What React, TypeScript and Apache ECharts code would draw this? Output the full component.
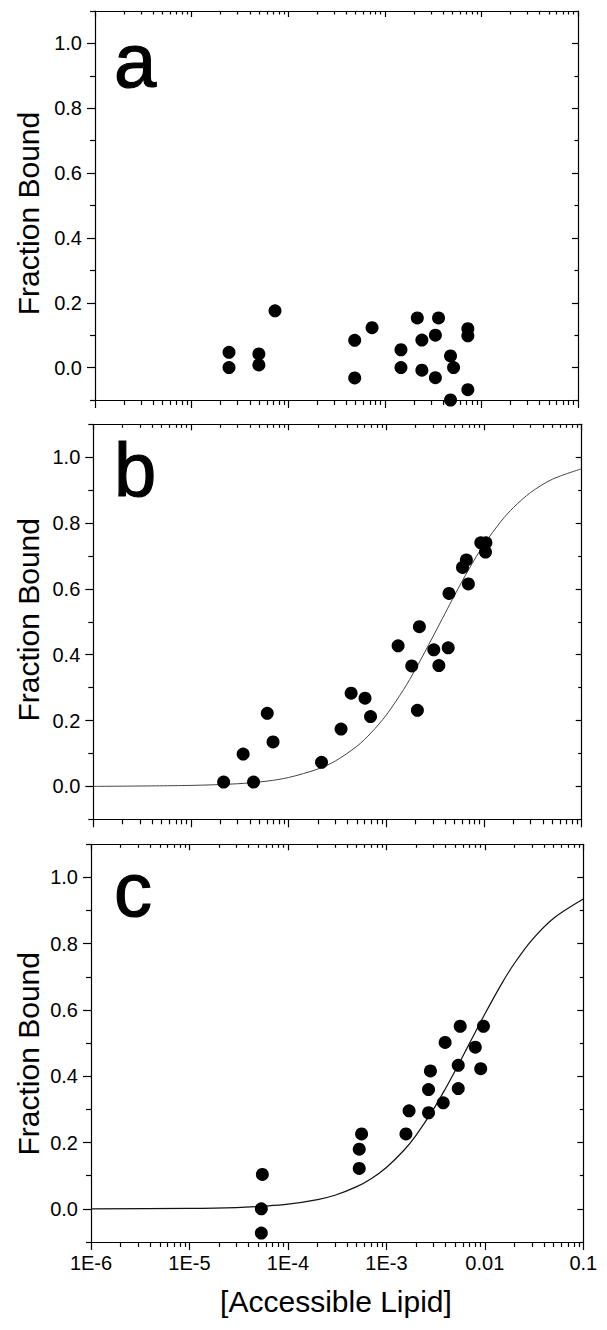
import React, { useEffect, useRef } from "react";
import * as echarts from "echarts";

// ---- axis tick values / labels ----
const xTickExponents = [-6, -5, -4, -3, -2, -1];
const xTickLabels = ["1E-6", "1E-5", "1E-4", "1E-3", "0.01", "0.1"];
const xMinorDigits = [2, 3, 4, 5, 6, 7, 8, 9];
const yMajorTicks = [0, 0.2, 0.4, 0.6, 0.8, 1.0];
const yMinorTicks = [-0.1, 0.1, 0.3, 0.5, 0.7, 0.9, 1.1];
const panelLetters = ["a", "b", "c"];
const yTitle = "Fraction Bound";
const xTitle = "[Accessible Lipid]";

// ---- panel a data ----
const aX = [2.44e-5, 2.44e-5, 4.97e-5, 4.97e-5, 7.3e-5, 4.88e-4, 4.88e-4, 7.38e-4, 1.47e-3, 1.47e-3, 2.17e-3, 2.42e-3, 2.42e-3, 3.34e-3, 3.34e-3, 3.6e-3, 4.79e-3, 5.15e-3, 4.79e-3, 7.24e-3, 7.24e-3, 7.24e-3];
const aY = [0.047, 0.0, 0.042, 0.008, 0.175, 0.084, -0.032, 0.123, 0.055, 0.0, 0.153, 0.085, -0.008, 0.1, -0.031, 0.153, 0.036, 0.0, -0.1, 0.12, 0.098, -0.068];

// ---- panel b data ----
const bX = [2.16e-5, 3.42e-5, 4.37e-5, 6.04e-5, 6.92e-5, 2.17e-4, 3.44e-4, 4.36e-4, 6.05e-4, 6.89e-4, 1.32e-3, 1.82e-3, 2.08e-3, 2.18e-3, 3.06e-3, 3.45e-3, 4.3e-3, 4.38e-3, 6.02e-3, 6.6e-3, 6.92e-3, 9.27e-3, 1.045e-2, 1.035e-2];
const bY = [0.013, 0.098, 0.013, 0.222, 0.135, 0.073, 0.174, 0.283, 0.268, 0.212, 0.427, 0.366, 0.231, 0.485, 0.415, 0.367, 0.421, 0.586, 0.665, 0.688, 0.615, 0.74, 0.74, 0.712];
const bCurveX = [1e-6, 1e-5, 3e-5, 6e-5, 1e-4, 2e-4, 3e-4, 5e-4, 7e-4, 1e-3, 1.5e-3, 2e-3, 3e-3, 4e-3, 5e-3, 7e-3, 1e-2, 1.5e-2, 2e-2, 3e-2, 5e-2, 1e-1];
const bCurveY = [0.0, 0.003, 0.008, 0.016, 0.027, 0.053, 0.077, 0.122, 0.163, 0.217, 0.294, 0.357, 0.455, 0.526, 0.581, 0.66, 0.735, 0.806, 0.847, 0.893, 0.933, 0.965];

// ---- panel c data ----
const cX = [5.5e-5, 5.37e-5, 5.37e-5, 5.6e-4, 5.3e-4, 5.3e-4, 1.58e-3, 1.7e-3, 2.68e-3, 2.68e-3, 2.8e-3, 3.78e-3, 3.95e-3, 5.37e-3, 5.37e-3, 5.62e-3, 8.0e-3, 9.08e-3, 9.68e-3];
const cY = [0.104, 0.0, -0.073, 0.226, 0.18, 0.122, 0.226, 0.296, 0.29, 0.36, 0.416, 0.32, 0.502, 0.363, 0.433, 0.551, 0.488, 0.423, 0.551];
const cCurveX = [1e-6, 1e-5, 3e-5, 6e-5, 1e-4, 2e-4, 3e-4, 5e-4, 7e-4, 1e-3, 1.5e-3, 2e-3, 3e-3, 4e-3, 5e-3, 7e-3, 1e-2, 1.5e-2, 2e-2, 3e-2, 5e-2, 1e-1];
const cCurveY = [0.0, 0.0014, 0.004, 0.0085, 0.014, 0.028, 0.041, 0.067, 0.091, 0.125, 0.176, 0.222, 0.3, 0.364, 0.417, 0.5, 0.588, 0.682, 0.741, 0.811, 0.877, 0.935];

const FONT = "'Liberation Sans', Arial, sans-serif";

export default function App() {
  const ref = useRef<HTMLDivElement>(null);

  useEffect(() => {
    if (!ref.current) return;
    const chart = echarts.init(ref.current, undefined, { renderer: "svg" });

    const layouts = [
      { left: 95, top: 11, width: 483, height: 389 },
      { left: 93.3, top: 424.3, width: 488.4, height: 395 },
      { left: 91, top: 844.3, width: 492.3, height: 397.7 },
    ];
    // letter centre offset from grid top, y-title centre offset from grid middle
    const letterDy = [49.7, 45.4, 45.4];
    const titleDy = [8, -2, 10.6];
    const pointSets = [
      { xs: aX, ys: aY },
      { xs: bX, ys: bY },
      { xs: cX, ys: cY },
    ];
    const curves = [
      null,
      { xs: bCurveX, ys: bCurveY, color: "#444", width: 1 },
      { xs: cCurveX, ys: cCurveY, color: "#111", width: 1.2 },
    ];

    const minorExps: number[] = [];
    for (let e = -6; e < -1; e++) {
      for (const d of xMinorDigits) minorExps.push(e + Math.log10(d));
    }

    const line = { color: "#000", width: 1.2 };
    const xAxes: any[] = [];
    const yAxes: any[] = [];
    const series: any[] = [];
    const graphics: any[] = [];

    layouts.forEach((g, i) => {
      const showLabels = i === 2;
      xAxes.push({
        type: "log", gridIndex: i, position: "bottom", logBase: 10, min: 1e-6, max: 0.1,
        axisLine: { show: true, onZero: false, lineStyle: line },
        axisTick: { show: false }, axisLabel: { show: false }, splitLine: { show: false },
      });
      xAxes.push({
        type: "value", gridIndex: i, position: "bottom", min: -6, max: -1, interval: 1,
        axisLine: { show: false, onZero: false },
        axisTick: { show: true, inside: false, length: 8, lineStyle: line },
        axisLabel: {
          show: showLabels, margin: 11, fontSize: 20, color: "#000", fontFamily: FONT,
          formatter: (v: number) => xTickLabels[xTickExponents.indexOf(Math.round(v))] ?? "",
        },
        splitLine: { show: false },
      });
      xAxes.push({
        type: "value", gridIndex: i, position: "bottom", min: -6, max: -1,
        axisLine: { show: false, onZero: false },
        axisTick: { show: true, inside: false, length: 5, customValues: minorExps, lineStyle: line },
        axisLabel: { show: false }, splitLine: { show: false },
      });
      xAxes.push({
        type: "value", gridIndex: i, position: "top", min: -6, max: -1, interval: 1,
        axisLine: { show: true, onZero: false, lineStyle: line },
        axisTick: { show: true, inside: true, length: 6, lineStyle: line },
        axisLabel: { show: false }, splitLine: { show: false },
      });
      xAxes.push({
        type: "value", gridIndex: i, position: "top", min: -6, max: -1,
        axisLine: { show: false, onZero: false },
        axisTick: { show: true, inside: true, length: 3.5, customValues: minorExps, lineStyle: line },
        axisLabel: { show: false }, splitLine: { show: false },
      });

      yAxes.push({
        type: "value", gridIndex: i, position: "left", min: -0.1, max: 1.1,
        axisLine: { show: true, onZero: false, lineStyle: line },
        axisTick: { show: true, inside: false, length: 8, customValues: yMajorTicks, lineStyle: line },
        axisLabel: {
          show: true, customValues: yMajorTicks, margin: 13, fontSize: 20, color: "#000", fontFamily: FONT,
          formatter: (v: number) => v.toFixed(1),
        },
        splitLine: { show: false },
      });
      yAxes.push({
        type: "value", gridIndex: i, position: "left", min: -0.1, max: 1.1,
        axisLine: { show: false, onZero: false },
        axisTick: { show: true, inside: false, length: 5, customValues: yMinorTicks, lineStyle: line },
        axisLabel: { show: false }, splitLine: { show: false },
      });
      yAxes.push({
        type: "value", gridIndex: i, position: "right", min: -0.1, max: 1.1,
        axisLine: { show: true, onZero: false, lineStyle: line },
        axisTick: { show: true, inside: true, length: 6, customValues: yMajorTicks, lineStyle: line },
        axisLabel: { show: false }, splitLine: { show: false },
      });
      yAxes.push({
        type: "value", gridIndex: i, position: "right", min: -0.1, max: 1.1,
        axisLine: { show: false, onZero: false },
        axisTick: { show: true, inside: true, length: 3.5, customValues: yMinorTicks, lineStyle: line },
        axisLabel: { show: false }, splitLine: { show: false },
      });

      const xi = i * 5;
      const yi = i * 4;
      const c = curves[i];
      if (c) {
        series.push({
          type: "line", xAxisIndex: xi, yAxisIndex: yi,
          data: c.xs.map((x, k) => [x, c.ys[k]]),
          showSymbol: false, symbol: "none", smooth: 0.3,
          lineStyle: { color: c.color, width: c.width }, z: 2,
        });
      }
      const p = pointSets[i];
      series.push({
        type: "scatter", xAxisIndex: xi, yAxisIndex: yi,
        data: p.xs.map((x, k) => [x, p.ys[k]]),
        symbol: "circle", symbolSize: 13, itemStyle: { color: "#000", opacity: 1 }, z: 3,
      });

      graphics.push({
        type: "text", x: 114, y: g.top + letterDy[i],
        style: { text: panelLetters[i], fontSize: 76, fontFamily: FONT, fill: "#000", stroke: "#000", lineWidth: 1.2, align: "left", verticalAlign: "middle" },
      });
      graphics.push({
        type: "text", x: 28.5, y: g.top + g.height / 2 + titleDy[i], rotation: Math.PI / 2,
        style: { text: yTitle, fontSize: 30, fontFamily: FONT, fill: "#000", align: "center", verticalAlign: "middle" },
      });
    });

    graphics.push({
      type: "text", x: 336, y: 1301,
      style: { text: xTitle, fontSize: 30, fontFamily: FONT, fill: "#000", align: "center", verticalAlign: "middle" },
    });

    chart.setOption({
      animation: false,
      backgroundColor: "#fff",
      grid: layouts.map((g) => ({ ...g, containLabel: false })),
      xAxis: xAxes,
      yAxis: yAxes,
      series,
      graphic: graphics,
    });

    return () => chart.dispose();
  }, []);

  return (
    <div
      ref={ref}
      style={{ position: "absolute", left: 0, top: 0, width: 607, height: 1330, background: "#fff" }}
    />
  );
}
